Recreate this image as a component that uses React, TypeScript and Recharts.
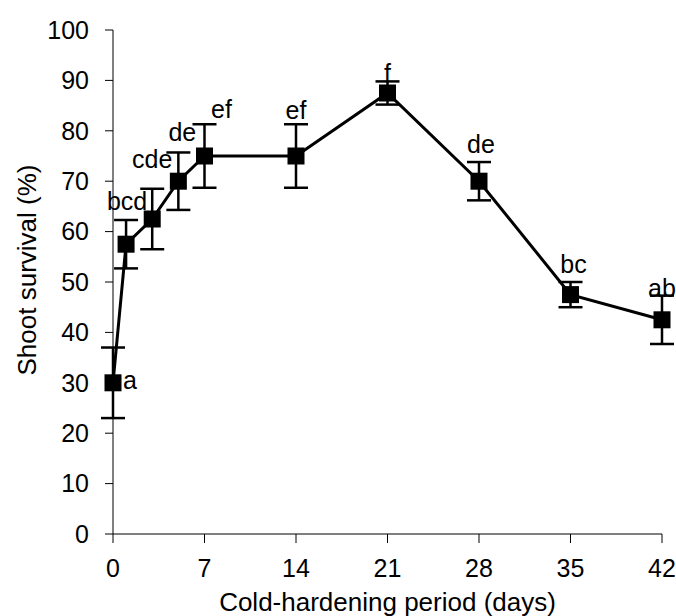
import React from "react";
import {
  ComposedChart,
  Line,
  XAxis,
  YAxis,
  ErrorBar,
  LabelList,
} from "recharts";

// cold-hardening period (days)
const days = [0, 1, 3, 5, 7, 14, 21, 28, 35, 42];
// shoot survival (%) and its error
const survival = [30, 57.5, 62.5, 70, 75, 75, 87.5, 70, 47.5, 42.5];
const errors = [7, 4.8, 6, 5.7, 6.3, 6.3, 2.3, 3.8, 2.5, 4.8];
// significance letters
const letters = ["a", "bcd", "cde", "de", "ef", "ef", "f", "de", "bc", "ab"];

const xTicks = [0, 7, 14, 21, 28, 35, 42];
const yTicks = [0, 10, 20, 30, 40, 50, 60, 70, 80, 90, 100];

const data = days.map((d, i) => ({
  day: d,
  survival: survival[i],
  err: errors[i],
  letter: letters[i],
}));

const FONT = "'Liberation Sans', Arial, sans-serif";

// where each letter sits relative to its point
const letterShift: [number, number][] = [
  [10, 6],
  [1, -34],
  [0, -51],
  [4, -40],
  [17, -38],
  [0, -37],
  [0, -11],
  [2, -28],
  [3, -22],
  [0, -23],
];

const SquareDot = (props: any) => {
  const { cx, cy } = props;
  if (cx == null || cy == null) return null;
  return <rect x={cx - 8.5} y={cy - 8.5} width={17} height={17} fill="#000" />;
};

const LetterLabel = (props: any) => {
  const { x, y, value, index } = props;
  const [dx, dy] = letterShift[index] ?? [0, -20];
  return (
    <text
      x={x + dx}
      y={y + dy}
      textAnchor={index === 0 ? "start" : "middle"}
      fontSize={25}
      fontFamily={FONT}
      fill="#000"
    >
      {value}
    </text>
  );
};

export default function App() {
  return (
    <div style={{ position: "absolute", left: 0, top: 0, background: "#fff" }}>
      <ComposedChart
        width={676}
        height={616}
        data={data}
        margin={{ top: 30, right: 14, left: 0, bottom: 0 }}
      >
        <XAxis
          dataKey="day"
          type="number"
          domain={[0, 42]}
          ticks={xTicks}
          height={82}
          axisLine={{ stroke: "#000", strokeWidth: 1 }}
          tickLine={{ stroke: "#000" }}
          tickSize={9}
          tick={{ fill: "#000", fontSize: 25, fontFamily: FONT, dy: 14 }}
          label={{
            value: "Cold-hardening period (days)",
            position: "insideBottom",
            offset: 5,
            style: { fill: "#000", fontSize: 26, fontFamily: FONT },
          }}
        />
        <YAxis
          type="number"
          domain={[0, 100]}
          ticks={yTicks}
          width={113}
          axisLine={{ stroke: "#000", strokeWidth: 1 }}
          tickLine={{ stroke: "#000" }}
          tickSize={8}
          tick={{ fill: "#000", fontSize: 25, fontFamily: FONT, dx: -14 }}
          label={{
            value: "Shoot survival (%)",
            angle: -90,
            position: "insideLeft",
            offset: 27,
            dy: -12,
            style: { fill: "#000", fontSize: 26, fontFamily: FONT, textAnchor: "middle" },
          }}
        />
        <Line
          dataKey="survival"
          stroke="#000"
          strokeWidth={3}
          dot={<SquareDot />}
          activeDot={false}
          isAnimationActive={false}
        >
          <ErrorBar dataKey="err" width={12} stroke="#000" strokeWidth={2.5} direction="y" />
          <LabelList dataKey="letter" content={<LetterLabel />} />
        </Line>
      </ComposedChart>
    </div>
  );
}
